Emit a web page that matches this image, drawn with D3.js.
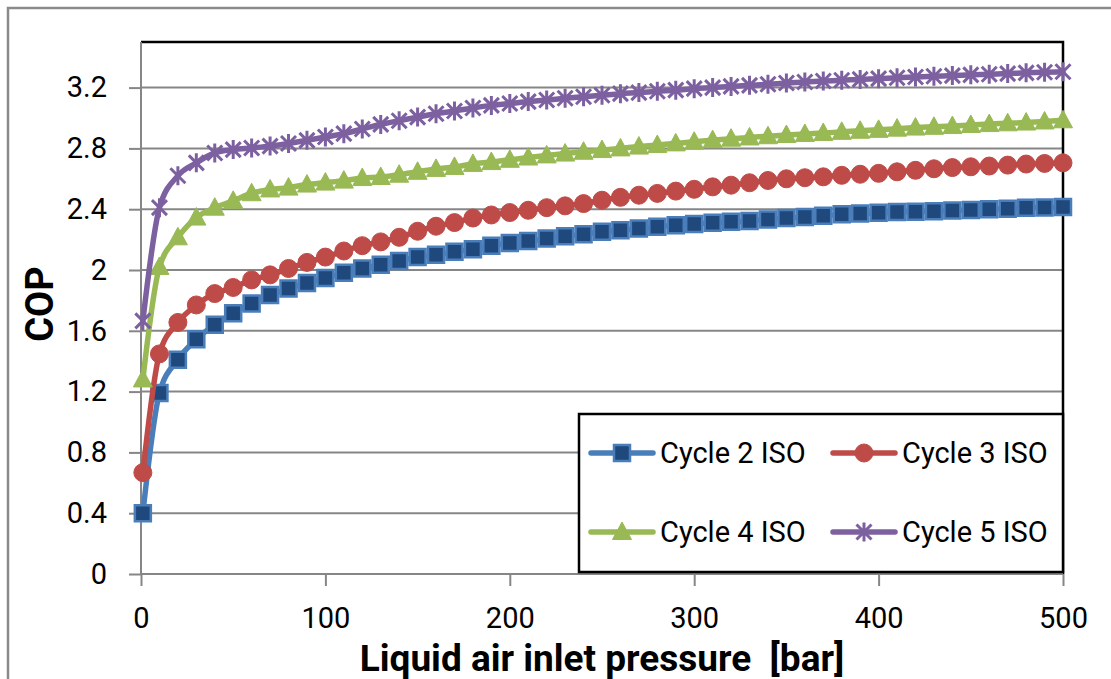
<!DOCTYPE html>
<html>
<head>
<meta charset="utf-8">
<script src="https://cdn.jsdelivr.net/npm/d3@7"></script>
<style>
  html, body { margin: 0; padding: 0; background: #fff; }
  svg { display: block; font-family: Roboto, "Open Sans", sans-serif; }
</style>
</head>
<body>
<svg id="chart" width="1111" height="679"></svg>
<script>
// Liquid air inlet pressure [bar]
const pressure = [1, 10, 20, 30, 40, 50, 60, 70, 80, 90,
  100, 110, 120, 130, 140, 150, 160, 170, 180, 190,
  200, 210, 220, 230, 240, 250, 260, 270, 280, 290,
  300, 310, 320, 330, 340, 350, 360, 370, 380, 390,
  400, 410, 420, 430, 440, 450, 460, 470, 480, 490, 500];

// COP of each cycle at the pressures above
const cycle2 = [0.40, 1.19, 1.41, 1.545, 1.64, 1.715, 1.78, 1.835, 1.878, 1.915,
  1.948, 1.982, 2.01, 2.035, 2.06, 2.085, 2.10, 2.12, 2.137, 2.16,
  2.178, 2.19, 2.207, 2.222, 2.236, 2.251, 2.262, 2.273, 2.284, 2.294,
  2.303, 2.311, 2.317, 2.323, 2.332, 2.342, 2.349, 2.357, 2.366, 2.371,
  2.376, 2.381, 2.384, 2.387, 2.392, 2.395, 2.40, 2.403, 2.409, 2.412, 2.415];

const cycle3 = [0.667, 1.448, 1.655, 1.77, 1.845, 1.885, 1.935, 1.968, 2.01, 2.05,
  2.085, 2.125, 2.16, 2.185, 2.215, 2.255, 2.288, 2.312, 2.342, 2.362,
  2.378, 2.393, 2.41, 2.422, 2.437, 2.459, 2.478, 2.492, 2.504, 2.519,
  2.531, 2.547, 2.558, 2.574, 2.589, 2.60, 2.607, 2.613, 2.623, 2.63,
  2.636, 2.646, 2.656, 2.666, 2.674, 2.679, 2.684, 2.69, 2.697, 2.701, 2.705];

const cycle4 = [1.28, 2.02, 2.215, 2.345, 2.41, 2.455, 2.505, 2.53, 2.542, 2.562,
  2.575, 2.588, 2.605, 2.612, 2.627, 2.646, 2.665, 2.678, 2.698, 2.71,
  2.725, 2.74, 2.754, 2.766, 2.778, 2.789, 2.80, 2.812, 2.822, 2.833,
  2.844, 2.854, 2.864, 2.872, 2.88, 2.888, 2.895, 2.901, 2.909, 2.916,
  2.922, 2.93, 2.937, 2.942, 2.947, 2.954, 2.96, 2.965, 2.97, 2.977, 2.985];

const cycle5 = [1.665, 2.41, 2.62, 2.705, 2.77, 2.792, 2.803, 2.815, 2.832, 2.853,
  2.875, 2.897, 2.928, 2.958, 2.982, 3.006, 3.028, 3.046, 3.066, 3.083,
  3.095, 3.108, 3.118, 3.13, 3.14, 3.15, 3.16, 3.167, 3.176, 3.183,
  3.193, 3.20, 3.208, 3.215, 3.222, 3.23, 3.237, 3.243, 3.248, 3.254,
  3.259, 3.265, 3.27, 3.275, 3.279, 3.284, 3.288, 3.292, 3.297, 3.301, 3.304];

const seriesNames = ["Cycle 2 ISO", "Cycle 3 ISO", "Cycle 4 ISO", "Cycle 5 ISO"];
const yTicks = [0, 0.4, 0.8, 1.2, 1.6, 2, 2.4, 2.8, 3.2];
const xTicks = [0, 100, 200, 300, 400, 500];
const xTitle = "Liquid air inlet pressure  [bar]";
const yTitle = "COP";

// Styling per series
const styles = [
  { line: "#4A7EBB", marker: "square",   fill: "#1F497D", stroke: "#4A7EBB" },
  { line: "#BE4B48", marker: "circle",   fill: "#BE4B48", stroke: "#BE4B48" },
  { line: "#98B954", marker: "triangle", fill: "#98B954", stroke: "#98B954" },
  { line: "#7D60A0", marker: "star",     fill: "none",    stroke: "#7D60A0" }
];

const seriesValues = [cycle2, cycle3, cycle4, cycle5];
const series = seriesNames.map((name, i) => ({
  name,
  style: styles[i],
  points: pressure.map((p, j) => ({ x: p, y: seriesValues[i][j] }))
}));

const svg = d3.select("#chart");
const W = 1111, H = 679;
const plot = { left: 141, right: 1063, top: 42, bottom: 574 };

const x = d3.scaleLinear().domain([0, 500]).range([plot.left, plot.right]);
const y = d3.scaleLinear().domain([0, 3.5]).range([plot.bottom, plot.top]);

const GRID = "#868686";

// Outer chart frame
svg.append("path")
  .attr("d", `M8,${H + 5} L8,8 L${W + 5},8`)
  .attr("fill", "none")
  .attr("stroke", "#8a8a8a")
  .attr("stroke-width", 2.5);

// Horizontal gridlines
svg.append("g")
  .selectAll("line")
  .data(yTicks.filter(d => d > 0))
  .join("line")
  .attr("x1", plot.left).attr("x2", plot.right)
  .attr("y1", d => y(d)).attr("y2", d => y(d))
  .attr("stroke", GRID).attr("stroke-width", 2);

// Plot area border (top and right)
svg.append("path")
  .attr("d", `M${plot.left},${plot.top} L${plot.right},${plot.top} L${plot.right},${plot.bottom}`)
  .attr("fill", "none")
  .attr("stroke", "#000")
  .attr("stroke-width", 2.5);

// Y axis
const yAxis = svg.append("g")
  .attr("transform", `translate(${plot.left},0)`)
  .call(d3.axisLeft(y).tickValues(yTicks).tickSize(12).tickPadding(22)
    .tickFormat(d => String(+d.toFixed(1))));
yAxis.select(".domain").attr("stroke", GRID).attr("stroke-width", 2)
  .attr("d", `M0,${plot.bottom}V${plot.top}`);
yAxis.selectAll(".tick line").attr("stroke", GRID).attr("stroke-width", 2);
yAxis.selectAll(".tick text")
  .attr("fill", "#000")
  .style("font-size", "29px")
  .style("font-family", "Roboto, sans-serif");

// X axis
const xAxis = svg.append("g")
  .attr("transform", `translate(0,${plot.bottom})`)
  .call(d3.axisBottom(x).tickValues(xTicks).tickSize(12).tickFormat(d3.format("d")));
xAxis.select(".domain").attr("stroke", GRID).attr("stroke-width", 2)
  .attr("d", `M${plot.left},0H${plot.right}`);
xAxis.selectAll(".tick line").attr("stroke", GRID).attr("stroke-width", 2);
xAxis.selectAll(".tick text")
  .attr("y", 54).attr("dy", null)
  .attr("fill", "#000")
  .style("font-size", "29px")
  .style("font-family", "Roboto, sans-serif");

// Axis titles
svg.append("text")
  .attr("x", (plot.left + plot.right) / 2)
  .attr("y", 671)
  .attr("text-anchor", "middle")
  .style("font-size", "37px")
  .style("font-weight", "bold")
  .style("white-space", "pre")
  .text(xTitle);

svg.append("text")
  .attr("transform", `translate(53,${(plot.top + plot.bottom) / 2 - 4}) rotate(-90)`)
  .attr("text-anchor", "middle")
  .style("font-size", "38px")
  .style("font-weight", "bold")
  .text(yTitle);

// Marker shapes
function markerPath(kind) {
  switch (kind) {
    case "square":   return "M-8,-8H8V8H-8Z";
    case "circle":   return d3.symbol(d3.symbolCircle, Math.PI * 9 * 9)();
    case "triangle": return "M0,-10L9.5,7.5L-9.5,7.5Z";
    case "star":     return "M-7.5,-7.5L7.5,7.5M-7.5,7.5L7.5,-7.5M0,-9.5V9.5";
  }
}
function drawMarker(sel, st) {
  sel.attr("d", markerPath(st.marker))
    .attr("fill", st.fill)
    .attr("stroke", st.stroke)
    .attr("stroke-width", st.marker === "square" ? 2.5 : (st.marker === "star" ? 3 : 1));
}

const line = d3.line()
  .x(d => x(d.x))
  .y(d => y(d.y))
  .curve(d3.curveMonotoneX);

const gSeries = svg.append("g");
series.forEach(s => {
  const g = gSeries.append("g");
  g.append("path")
    .datum(s.points)
    .attr("d", line)
    .attr("fill", "none")
    .attr("stroke", s.style.line)
    .attr("stroke-width", 5.5)
    .attr("stroke-linejoin", "round")
    .attr("stroke-linecap", "round");
  g.selectAll("path.mk")
    .data(s.points)
    .join("path")
    .attr("class", "mk")
    .attr("transform", d => `translate(${x(d.x)},${y(d.y)})`)
    .call(drawMarker, s.style);
});

// Legend
const legend = svg.append("g");
legend.append("rect")
  .attr("x", 579).attr("y", 414)
  .attr("width", plot.right - 579).attr("height", 158)
  .attr("fill", "#fff")
  .attr("stroke", "#000")
  .attr("stroke-width", 2.5);

const legendPos = [
  { x: 591, y: 453 }, { x: 833, y: 453 },
  { x: 591, y: 532 }, { x: 833, y: 532 }
];
series.forEach((s, i) => {
  const p = legendPos[i];
  const item = legend.append("g").attr("transform", `translate(${p.x},${p.y})`);
  item.append("line")
    .attr("x1", 0).attr("x2", 62).attr("y1", 0).attr("y2", 0)
    .attr("stroke", s.style.line).attr("stroke-width", 5.5)
    .attr("stroke-linecap", "round");
  item.append("path")
    .attr("transform", "translate(31,0)")
    .call(drawMarker, s.style);
  item.append("text")
    .attr("x", 69).attr("y", 0).attr("dy", "0.36em")
    .style("font-size", "29px")
    .text(s.name);
});
</script>
</body>
</html>
